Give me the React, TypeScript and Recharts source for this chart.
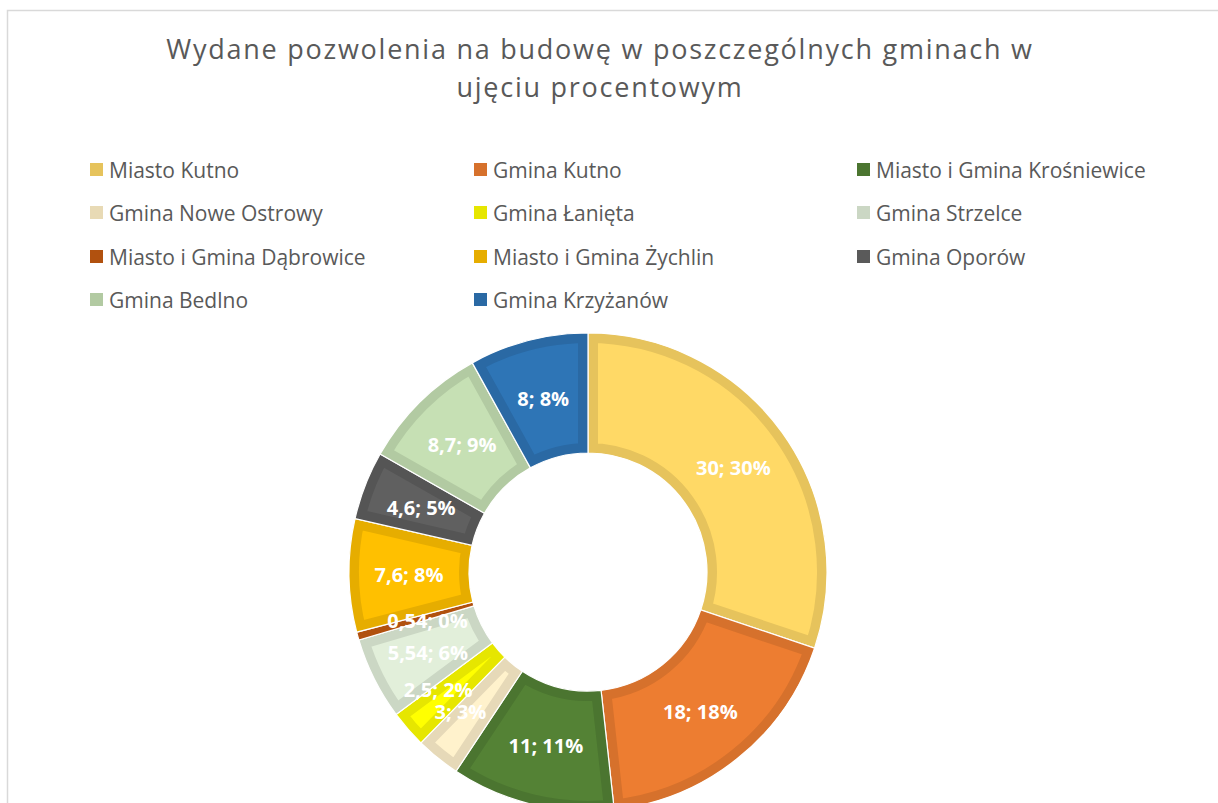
import React from 'react';
import { PieChart, Pie, Sector } from 'recharts';

const names = [
  'Miasto Kutno',
  'Gmina Kutno',
  'Miasto i Gmina Krośniewice',
  'Gmina Nowe Ostrowy',
  'Gmina Łanięta',
  'Gmina Strzelce',
  'Miasto i Gmina Dąbrowice',
  'Miasto i Gmina Żychlin',
  'Gmina Oporów',
  'Gmina Bedlno',
  'Gmina Krzyżanów',
];
const values = [30, 18, 11, 3, 2.5, 5.54, 0.54, 7.6, 4.6, 8.7, 8];
const valueLabels = ['30', '18', '11', '3', '2,5', '5,54', '0,54', '7,6', '4,6', '8,7', '8'];
const pctLabels = ['30%', '18%', '11%', '3%', '2%', '6%', '0%', '8%', '5%', '9%', '8%'];
const fills = ['#FFD966', '#ED7D31', '#548235', '#FFF2CC', '#FFFF00', '#E2EFDA', '#C55A11', '#FFC000', '#606060', '#C6E0B4', '#2E75B6'];
const borders = ['#E6C35C', '#D6712C', '#4B7530', '#E6D9B8', '#E6E600', '#CBD7C4', '#B1510F', '#E6AD00', '#555555', '#B2CAA2', '#2A69A4'];
const legendColors = ['#E6C35C', '#D6712C', '#4B7530', '#E8DAB5', '#E6E600', '#CBD7C4', '#B1510F', '#E6AD00', '#5A5A5A', '#B2CAA2', '#2A69A4'];
const titleLines = ['Wydane pozwolenia na budowę w poszczególnych gminach w', 'ujęciu procentowym'];

// small horizontal nudges of crowded data labels (style only)
const labelNudgeX = [0, 0, 0, -15, -15, 0, 12, 0, 0, 0, 0];

const data = names.map((name, i) => ({ name, value: values[i] }));

const CX = 588;
const CY = 572;
const R_OUT = 239;
const R_IN = 119;

const idxOf = (p: any) => {
  const n = p.name ?? (p.payload && p.payload.name);
  return names.indexOf(n);
};

const renderSlice = (props: any) => {
  const { cx, cy, innerRadius, outerRadius, startAngle, endAngle } = props;
  const i = idxOf(props);
  const id = `slice-clip-${i}`;
  const common = { cx, cy, innerRadius, outerRadius, startAngle, endAngle };
  return (
    <g>
      <defs>
        <clipPath id={id}>
          <Sector {...common} />
        </clipPath>
      </defs>
      <Sector {...common} fill={fills[i]} stroke={borders[i]} strokeWidth={20} clipPath={`url(#${id})`} />
      <Sector {...common} fill="none" stroke="#ffffff" strokeWidth={1.2} />
    </g>
  );
};

const RAD = Math.PI / 180;
const renderLabel = (props: any) => {
  const { cx, cy, midAngle, innerRadius, outerRadius } = props;
  const i = idxOf(props);
  const r = (innerRadius + outerRadius) / 2;
  const x = cx + r * Math.cos(-midAngle * RAD) + (labelNudgeX[i] || 0);
  const y = cy + r * Math.sin(-midAngle * RAD);
  return (
    <text
      x={x}
      y={y}
      fill="#ffffff"
      textAnchor="middle"
      dominantBaseline="central"
      fontFamily="'Open Sans', sans-serif"
      fontWeight={700}
      fontSize={20}
    >
      {`${valueLabels[i]}; ${pctLabels[i]}`}
    </text>
  );
};

const legendCols = [90, 474, 857];
const legendRows = [170, 213, 257, 300];

export default function App() {
  return (
    <div style={{ position: 'absolute', left: 0, top: 0, width: 1218, height: 803, background: '#fff', overflow: 'hidden' }}>
      <svg width={1218} height={803} style={{ position: 'absolute', left: 0, top: 0 }}>
        <rect x={7.5} y={10.5} width={1240} height={900} fill="#fff" stroke="#D9D9D9" strokeWidth={1.5} />
        {titleLines.map((t, i) => (
          <text
            key={i}
            x={600}
            y={59 + i * 38}
            textAnchor="middle"
            fill="#595959"
            fontFamily="'Open Sans', sans-serif"
            fontSize={27}
            letterSpacing={1.75}
          >
            {t}
          </text>
        ))}
        {names.map((n, i) => {
          const col = i % 3;
          const row = Math.floor(i / 3);
          const x = legendCols[col];
          const y = legendRows[row];
          return (
            <g key={n}>
              <rect x={x} y={y - 7} width={13} height={13} fill={legendColors[i]} />
              <text x={x + 19} y={y + 7.5} fill="#595959" fontFamily="'Open Sans', sans-serif" fontSize={21}>
                {n}
              </text>
            </g>
          );
        })}
      </svg>
      <div style={{ position: 'absolute', left: 0, top: 0 }}>
        <PieChart width={1218} height={803} margin={{ top: 0, right: 0, bottom: 0, left: 0 }}>
          <Pie
            data={data}
            dataKey="value"
            nameKey="name"
            cx={CX}
            cy={CY}
            innerRadius={R_IN}
            outerRadius={R_OUT}
            startAngle={90}
            endAngle={-270}
            stroke="none"
            isAnimationActive={false}
            labelLine={false}
            label={renderLabel}
            shape={renderSlice}
            activeShape={renderSlice}
            inactiveShape={renderSlice}
          />
        </PieChart>
      </div>
    </div>
  );
}
